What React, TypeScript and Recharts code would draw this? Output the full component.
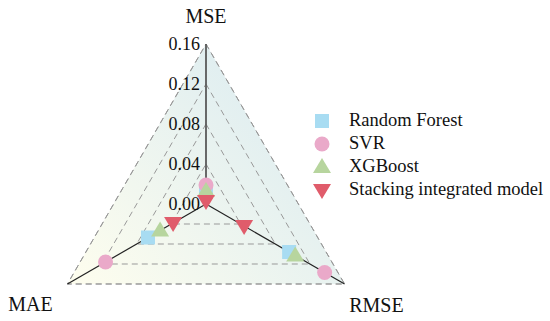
import React from 'react';
import {
  RadarChart,
  Radar,
  PolarGrid,
  PolarAngleAxis,
  PolarRadiusAxis,
  Legend,
} from 'recharts';

// 三个误差指标
const metrics = ['MSE', 'RMSE', 'MAE'];
const radiusTicks = [0, 0.04, 0.08, 0.12, 0.16];

const randomForest = [0.012, 0.096, 0.067];
const svr = [0.019, 0.137, 0.116];
const xgboost = [0.013, 0.103, 0.053];
const stacking = [0.003, 0.044, 0.038];

const seriesInfo = [
  { key: 'rf', name: 'Random Forest', color: '#a8dcf2', shape: 'square' },
  { key: 'svr', name: 'SVR', color: '#eaa9c9', shape: 'circle' },
  { key: 'xgb', name: 'XGBoost', color: '#b7d59e', shape: 'up' },
  { key: 'stk', name: 'Stacking integrated model', color: '#e05c6b', shape: 'down' },
];

const data = metrics.map((m, i) => ({
  metric: m,
  rf: randomForest[i],
  svr: svr[i],
  xgb: xgboost[i],
  stk: stacking[i],
}));

const FONT = '"Liberation Serif", "Times New Roman", serif';

function Marker({ shape, color, x, y }: { shape: string; color: string; x: number; y: number }) {
  if (shape === 'square') return <rect x={x - 7} y={y - 7} width={14} height={14} fill={color} />;
  if (shape === 'circle') return <circle cx={x} cy={y} r={7.5} fill={color} />;
  if (shape === 'up')
    return <polygon points={`${x},${y - 9} ${x - 9},${y + 6} ${x + 9},${y + 6}`} fill={color} />;
  return <polygon points={`${x - 9},${y - 6} ${x + 9},${y - 6} ${x},${y + 9}`} fill={color} />;
}

const makeDot = (shape: string, color: string) => (props: any) => (
  <Marker key={`${shape}-${props.index}`} shape={shape} color={color} x={props.cx} y={props.cy} />
);

const labelOffset: Record<string, [number, number]> = {
  MSE: [0, -20],
  RMSE: [25, 17],
  MAE: [-30, 16],
};

const AngleTick = (props: any) => {
  const { x, y, payload } = props;
  const [dx, dy] = labelOffset[payload.value] || [0, 0];
  return (
    <text x={x + dx} y={y + dy} textAnchor="middle" dominantBaseline="central" fontFamily={FONT} fontSize={20} fill="#111">
      {payload.value}
    </text>
  );
};

const RadiusTick = (props: any) => {
  const { x, y, payload } = props;
  return (
    <text x={x - 6} y={y} textAnchor="end" dominantBaseline="central" fontFamily={FONT} fontSize={18} fill="#111">
      {Number(payload.value).toFixed(2)}
    </text>
  );
};

const LegendContent = () => (
  <div style={{ fontFamily: FONT, fontSize: 18.5, color: '#111' }}>
    {seriesInfo.map((s) => (
      <div key={s.key} style={{ display: 'flex', alignItems: 'center', height: 23 }}>
        <svg width={20} height={20} style={{ marginRight: 17 }}>
          <Marker shape={s.shape} color={s.color} x={10} y={10} />
        </svg>
        <span>{s.name}</span>
      </div>
    ))}
  </div>
);

export default function App() {
  return (
    <div style={{ position: 'absolute', left: 0, top: 0, width: 550, height: 321, background: '#fff' }}>
      <RadarChart
        width={550}
        height={321}
        data={data}
        cx={206}
        cy={204}
        outerRadius={160}
        margin={{ top: 0, right: 0, bottom: 0, left: 0 }}
      >
        <defs>
          <linearGradient id="bgGrad" gradientUnits="userSpaceOnUse" x1={80} y1={284} x2={300} y2={80}>
            <stop offset="0%" stopColor="#fdfdee" />
            <stop offset="100%" stopColor="#dcecf1" />
          </linearGradient>
        </defs>
        <PolarGrid
          gridType="polygon"
          radialLines={false}
          stroke="#999"
          strokeDasharray="6 4"
          fill="url(#bgGrad)"
          fillOpacity={1}
        />
        <PolarGrid gridType="polygon" polarRadius={[]} stroke="#222" strokeWidth={1.2} />
        <PolarAngleAxis dataKey="metric" tick={<AngleTick />} axisLine={false} tickLine={false} />
        <PolarRadiusAxis
          angle={90}
          domain={[0, 0.16]}
          ticks={radiusTicks}
          tick={<RadiusTick />}
          axisLine={{ stroke: '#666', strokeWidth: 1.6 }}
          tickLine={false}
        />
        {seriesInfo.map((s) => (
          <Radar
            key={s.key}
            name={s.name}
            dataKey={s.key}
            stroke="none"
            fill="none"
            dot={makeDot(s.shape, s.color)}
            isAnimationActive={false}
          />
        ))}
        <Legend
          layout="vertical"
          content={<LegendContent />}
          wrapperStyle={{ position: 'absolute', left: 312, top: 109, width: 240 }}
        />
      </RadarChart>
    </div>
  );
}
